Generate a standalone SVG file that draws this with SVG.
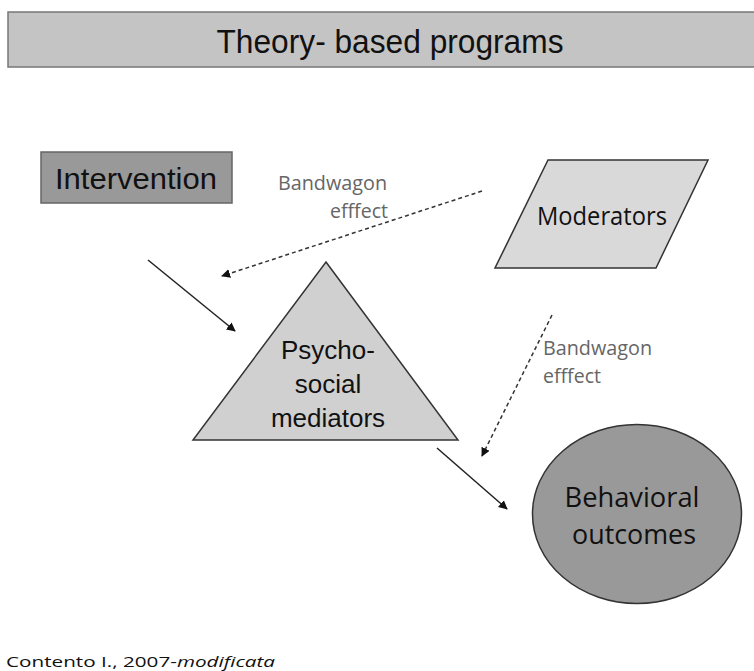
<svg xmlns="http://www.w3.org/2000/svg" width="754" height="671" viewBox="0 0 754 671">
<style>
.arial{font-family:"Liberation Sans",Arial,sans-serif;fill:#111}
.cal{font-family:"Open Sans","Noto Sans",sans-serif;fill:#111}
.lbl{font-family:"Open Sans","Noto Sans",sans-serif;fill:#666;font-size:19.5px}
.shape{stroke:#333;stroke-width:1.5}
.solid{stroke:#222;stroke-width:1.5;fill:none}
.dash{stroke:#333;stroke-width:1.5;fill:none;stroke-dasharray:4 3}
</style>
<defs>
<marker id="ah" viewBox="0 0 10 10" refX="9" refY="5" markerWidth="9" markerHeight="9" markerUnits="userSpaceOnUse" orient="auto">
<path d="M0,0 L10,5 L0,10 z" fill="#111"/>
</marker>
</defs>
<rect width="754" height="671" fill="#fff"/>
<g id="title">
<rect x="8" y="12" width="760" height="55" fill="#c4c4c4" stroke="#777" stroke-width="1.5"/>
<text class="arial" x="390" y="53" font-size="34" text-anchor="middle" textLength="347" lengthAdjust="spacingAndGlyphs">Theory- based programs</text>
</g>
<g id="intervention">
<rect x="41" y="152" width="191" height="51" fill="#999" stroke="#666" stroke-width="1.5"/>
<text class="arial" x="136" y="189" font-size="30" text-anchor="middle" textLength="162" lengthAdjust="spacingAndGlyphs">Intervention</text>
</g>
<g id="moderators">
<polygon class="shape" points="548,160 708,160 656,268 495,268" fill="#d9d9d9"/>
<text class="cal" x="602" y="225" font-size="26" text-anchor="middle" textLength="130" lengthAdjust="spacingAndGlyphs">Moderators</text>
</g>
<g id="mediators">
<polygon class="shape" points="326,262 458,440 193,440" fill="#d0d0d0"/>
<text class="arial" x="328" y="359" font-size="26" text-anchor="middle">Psycho-</text>
<text class="arial" x="328" y="393" font-size="26" text-anchor="middle">social</text>
<text class="arial" x="328" y="427" font-size="26" text-anchor="middle">mediators</text>
</g>
<g id="outcomes">
<ellipse class="shape" cx="637" cy="514" rx="104.5" ry="89.5" fill="#999"/>
<text class="cal" x="632" y="507" font-size="27" text-anchor="middle" textLength="135" lengthAdjust="spacingAndGlyphs">Behavioral</text>
<text class="cal" x="634" y="544" font-size="27" text-anchor="middle" textLength="124" lengthAdjust="spacingAndGlyphs">outcomes</text>
</g>
<g id="connectors">
<line class="solid" x1="148" y1="260" x2="235" y2="331" marker-end="url(#ah)"/>
<line class="solid" x1="437" y1="448" x2="507" y2="509" marker-end="url(#ah)"/>
<line class="dash" x1="482" y1="191" x2="222" y2="276" marker-end="url(#ah)"/>
<line class="dash" x1="552" y1="315" x2="482" y2="456" marker-end="url(#ah)"/>
</g>
<g id="labels">
<text class="lbl" x="278" y="190" textLength="109" lengthAdjust="spacingAndGlyphs">Bandwagon</text>
<text class="lbl" x="330" y="218" textLength="58" lengthAdjust="spacingAndGlyphs">efffect</text>
<text class="lbl" x="543" y="355" textLength="109" lengthAdjust="spacingAndGlyphs">Bandwagon</text>
<text class="lbl" x="543" y="383" textLength="58" lengthAdjust="spacingAndGlyphs">efffect</text>
</g>
<g id="citation">
<text class="cal" x="6" y="667" font-size="15" fill="#222" textLength="269" lengthAdjust="spacingAndGlyphs">Contento I., 2007-<tspan font-style="italic">modificata</tspan></text>
</g>
</svg>
